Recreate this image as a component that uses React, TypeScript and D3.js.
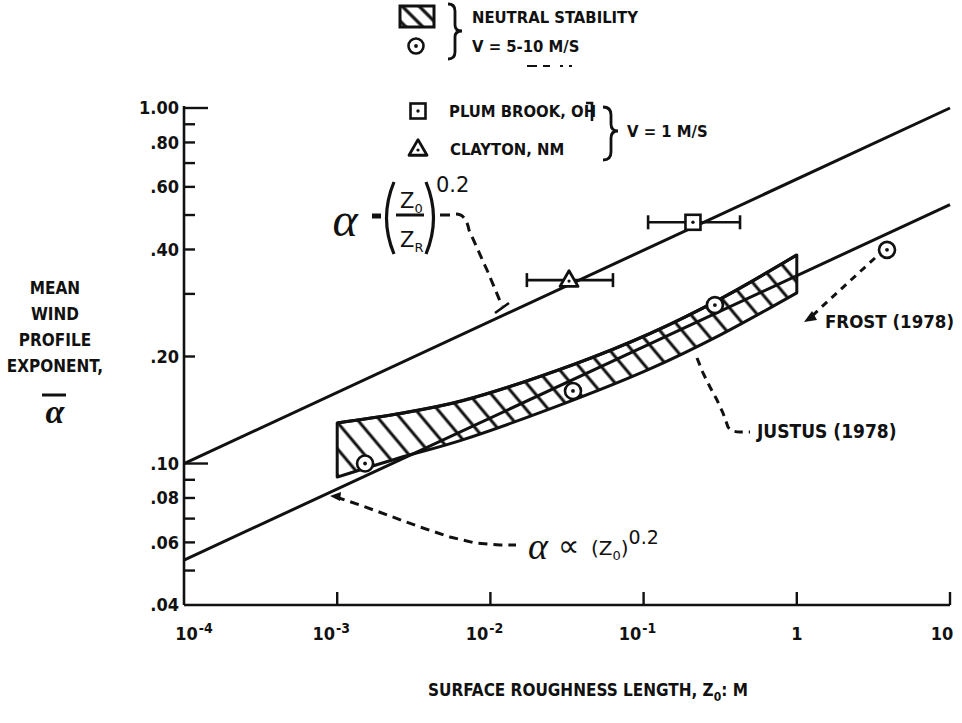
import React from "react";
import * as d3 from "d3";

// ---------- data ----------
const xTickValues = [1e-4, 1e-3, 1e-2, 1e-1, 1, 10];
const xTickBase = ["10", "10", "10", "10", "1", "10"];
const xTickExp = ["-4", "-3", "-2", "-1", "", ""];

const yLabelValues = [0.04, 0.06, 0.08, 0.1, 0.2, 0.4, 0.6, 0.8, 1.0];
const yLabelTexts = [".04", ".06", ".08", ".10", ".20", ".40", ".60", ".80", "1.00"];
const yMinorValues = [0.05, 0.07, 0.09, 0.3, 0.5, 0.7, 0.9];
const yLongTicks = [0.1, 1.0];

// alpha = (z0/zR)^0.2 line
const upperLineZ = [1e-4, 10];
const upperLineA = [0.1, 1.0];
// alpha proportional to z0^0.2 line
const lowerLineZ = [1e-4, 10];
const lowerLineA = [0.0535, 0.535];

// neutral stability band
const bandZ = [0.001, 0.0025, 0.0065, 0.035, 0.11, 0.315, 1.0];
const bandTop = [0.13, 0.138, 0.15, 0.19, 0.232, 0.29, 0.386];
const bandBottom = [0.0916, 0.1035, 0.1164, 0.151, 0.1845, 0.2297, 0.302];

// neutral stability points (V = 5-10 m/s)
const neutralZ = [0.00152, 0.0346, 0.292, 3.88];
const neutralA = [0.1, 0.16, 0.279, 0.399];

// low-wind sites (V = 1 m/s)
const siteNames = ["PLUM BROOK, OH", "CLAYTON, NM"];
const siteZ = [0.21, 0.0326];
const siteA = [0.477, 0.328];
const siteZmin = [0.107, 0.0173];
const siteZmax = [0.426, 0.0631];

// ---------- layout ----------
const W = 962;
const H = 723;
const FONT = "'DejaVu Sans Condensed', 'DejaVu Sans', sans-serif";
const INK = "#111";

const x = d3.scaleLog().domain([1e-4, 10]).range([184, 950]);
const y = d3.scaleLog().domain([0.04, 1.0]).range([605, 108]);

function CircleDot({ cx, cy, r = 8 }: { cx: number; cy: number; r?: number }) {
  return (
    <g>
      <circle cx={cx} cy={cy} r={r} fill="#fff" stroke={INK} strokeWidth={2.6} />
      <circle cx={cx} cy={cy} r={1.9} fill={INK} />
    </g>
  );
}

function SquareDot({ cx, cy, s = 15 }: { cx: number; cy: number; s?: number }) {
  return (
    <g>
      <rect x={cx - s / 2} y={cy - s / 2} width={s} height={s} fill="#fff" stroke={INK} strokeWidth={2.6} />
      <circle cx={cx} cy={cy} r={1.7} fill={INK} />
    </g>
  );
}

function TriangleDot({ cx, cy, s = 18 }: { cx: number; cy: number; s?: number }) {
  const h = s * 0.87;
  const pts = `${cx},${cy - h * 0.6} ${cx - s / 2},${cy + h * 0.4} ${cx + s / 2},${cy + h * 0.4}`;
  return (
    <g>
      <polygon points={pts} fill="#fff" stroke={INK} strokeWidth={2.8} strokeLinejoin="round" />
      <circle cx={cx} cy={cy + 1} r={1.6} fill={INK} />
    </g>
  );
}

export default function App() {
  const line = d3
    .line<[number, number]>()
    .x((d) => x(d[0]))
    .y((d) => y(d[1]));

  const upperPts: [number, number][] = upperLineZ.map((z, i) => [z, upperLineA[i]]);
  const lowerPts: [number, number][] = lowerLineZ.map((z, i) => [z, lowerLineA[i]]);

  const bandArea = d3
    .area<number>()
    .x((_, i) => x(bandZ[i]))
    .y0((_, i) => y(bandBottom[i]))
    .y1((_, i) => y(bandTop[i]))
    .curve(d3.curveCatmullRom.alpha(0.5));
  const bandPath = bandArea(bandZ) || "";

  const topLine = d3
    .line<number>()
    .x((_, i) => x(bandZ[i]))
    .y((d) => y(d))
    .curve(d3.curveCatmullRom.alpha(0.5));

  const dash = "9 6";

  return (
    <svg
      width={W}
      height={H}
      viewBox={`0 0 ${W} ${H}`}
      style={{ position: "absolute", left: 0, top: 0, background: "#fff" }}
      fontFamily={FONT}
      fontWeight="bold"
    >
      <defs>
        <pattern id="hatch" width="17" height="17" patternUnits="userSpaceOnUse" patternTransform="rotate(-40)">
          <line x1="4" y1="0" x2="4" y2="17" stroke={INK} strokeWidth={3} />
        </pattern>
        <pattern id="hatchLeg" width="12" height="12" patternUnits="userSpaceOnUse" patternTransform="rotate(-45)">
          <line x1="4" y1="0" x2="4" y2="12" stroke={INK} strokeWidth={3.2} />
        </pattern>
      </defs>
      <rect x={0} y={0} width={W} height={H} fill="#fff" />

      {/* axes */}
      <line x1={x(1e-4)} y1={y(0.04)} x2={x(1e-4)} y2={y(1.0) - 2} stroke={INK} strokeWidth={2.6} />
      <line x1={x(1e-4)} y1={y(0.04)} x2={x(10)} y2={y(0.04)} stroke={INK} strokeWidth={2.6} />

      {/* y ticks */}
      {yLabelValues.map((v, i) => {
        const long = yLongTicks.includes(v);
        return (
          <g key={"yl" + i}>
            {v !== 0.04 && (
              <line x1={x(1e-4)} x2={x(1e-4) + (long ? 24 : 11)} y1={y(v)} y2={y(v)} stroke={INK} strokeWidth={2.4} />
            )}
            <text x={x(1e-4) - 5} y={y(v)} dy="0.36em" textAnchor="end" fontSize={18} fill={INK}>
              {yLabelTexts[i]}
            </text>
          </g>
        );
      })}
      {yMinorValues.map((v, i) => (
        <line key={"ym" + i} x1={x(1e-4)} x2={x(1e-4) + 11} y1={y(v)} y2={y(v)} stroke={INK} strokeWidth={2.4} />
      ))}

      {/* x ticks */}
      {xTickValues.map((v, i) => (
        <g key={"xt" + i}>
          {i > 0 && <line x1={x(v)} x2={x(v)} y1={y(0.04)} y2={y(0.04) - 13} stroke={INK} strokeWidth={2.4} />}
          <text
            x={x(v) + (i === 0 ? 10 : i === 5 ? -8 : xTickExp[i] ? -6 : 0)}
            y={634}
            dy="0.36em"
            textAnchor="middle"
            fontSize={18}
            fill={INK}
          >
            {xTickBase[i]}
            {xTickExp[i] && (
              <tspan dy="-0.55em" dx="1" fontSize={14}>
                {xTickExp[i]}
              </tspan>
            )}
          </text>
        </g>
      ))}

      {/* axis titles */}
      <text x={588} y={696} textAnchor="middle" fontSize={17} fill={INK}>
        SURFACE ROUGHNESS LENGTH, Z
        <tspan dy="5" fontSize={12}>0</tspan>
        <tspan dy="-5">: M</tspan>
      </text>
      <g fontSize={17} fill={INK} textAnchor="middle">
        <text x={55} y={294}>MEAN</text>
        <text x={55} y={320}>WIND</text>
        <text x={55} y={346}>PROFILE</text>
        <text x={55} y={372}>EXPONENT,</text>
      </g>
      <line x1={42} x2={66} y1={395} y2={395} stroke={INK} strokeWidth={3} />
      <text x={55} y={423} textAnchor="middle" fontSize={34} fontStyle="italic" fontFamily="'Liberation Serif', serif" fill={INK}>
        α
      </text>

      {/* hatched band */}
      <path d={bandPath} fill="url(#hatch)" stroke={INK} strokeWidth={3} strokeLinejoin="round" />
      <path d={topLine(bandTop) || ""} fill="none" stroke={INK} strokeWidth={3.2} />

      {/* lines */}
      <path d={line(upperPts) || ""} fill="none" stroke={INK} strokeWidth={3} />
      <path d={line(lowerPts) || ""} fill="none" stroke={INK} strokeWidth={3} />

      {/* neutral points */}
      {neutralZ.map((z, i) => (
        <CircleDot key={"n" + i} cx={x(z)} cy={y(neutralA[i])} />
      ))}

      {/* low wind sites with error bars */}
      {siteZ.map((z, i) => {
        const cy = y(siteA[i]);
        const x0 = x(siteZmin[i]);
        const x1 = x(siteZmax[i]);
        return (
          <g key={"s" + i}>
            <line x1={x0} x2={x1} y1={cy} y2={cy} stroke={INK} strokeWidth={2.6} />
            <line x1={x0} x2={x0} y1={cy - 7} y2={cy + 7} stroke={INK} strokeWidth={2.6} />
            <line x1={x1} x2={x1} y1={cy - 7} y2={cy + 7} stroke={INK} strokeWidth={2.6} />
            {i === 0 ? <SquareDot cx={x(z)} cy={cy} /> : <TriangleDot cx={x(z)} cy={cy} />}
          </g>
        );
      })}

      {/* legend */}
      <rect x={400} y={6} width={34} height={21} fill="url(#hatchLeg)" stroke={INK} strokeWidth={3} />
      <CircleDot cx={416} cy={46} r={7.5} />
      <path d="M448,4 Q455,4 455,11 L455,25 Q455,31 462,31 Q455,31 455,37 L455,52 Q455,59 448,59" fill="none" stroke={INK} strokeWidth={2.8} />
      <text x={472} y={23} fontSize={16.5} fill={INK}>NEUTRAL STABILITY</text>
      <text x={472} y={52} fontSize={16.5} fill={INK}>V = 5-10 M/S</text>
      <g stroke={INK} strokeWidth={2}>
        <line x1={527} x2={537} y1={66} y2={66} />
        <line x1={543} x2={550} y1={66} y2={66} />
        <line x1={560} x2={563} y1={66} y2={66} />
        <line x1={569} x2={572} y1={66} y2={66} />
      </g>
      <SquareDot cx={418} cy={111} />
      <text x={449} y={117} fontSize={16.5} fill={INK}>{siteNames[0]}</text>
      <path d="M586,103 L592,103 L592,121" fill="none" stroke={INK} strokeWidth={2.6} />
      <TriangleDot cx={418} cy={149} />
      <text x={450} y={155} fontSize={16.5} fill={INK}>{siteNames[1]}</text>
      <path d="M603,107 Q611,107 611,115 L611,124 Q611,131 618,131 Q611,131 611,138 L611,152 Q611,160 603,160" fill="none" stroke={INK} strokeWidth={2.8} />
      <text x={627} y={137} fontSize={16.5} fill={INK}>V = 1 M/S</text>

      {/* annotation: alpha = (Z0/ZR)^0.2 */}
      <text x={345} y={236} textAnchor="middle" fontSize={48} fontStyle="italic" fontFamily="'Liberation Serif', serif" fontWeight="normal" fill={INK}>
        α
      </text>
      <line x1={372} x2={381} y1={216} y2={216} stroke={INK} strokeWidth={5} />
      <path d="M394,182 Q379,218 394,254" fill="none" stroke={INK} strokeWidth={3.2} />
      <path d="M426,182 Q441,218 426,254" fill="none" stroke={INK} strokeWidth={3.2} />
      <line x1={396} x2={424} y1={215} y2={215} stroke={INK} strokeWidth={3} />
      <text x={400} y={208} fontSize={21} fontWeight="normal" fontFamily="'DejaVu Sans', sans-serif" fill={INK}>
        Z<tspan dy="5" fontSize={13}>0</tspan>
      </text>
      <text x={400} y={247} fontSize={21} fontWeight="normal" fontFamily="'DejaVu Sans', sans-serif" fill={INK}>
        Z<tspan dy="5" fontSize={13}>R</tspan>
      </text>
      <text x={436} y={192} fontSize={21} fontWeight="normal" fontFamily="'DejaVu Sans', sans-serif" fill={INK}>
        0.2
      </text>
      <line x1={440} x2={450} y1={215} y2={215} stroke={INK} strokeWidth={3} />
      <path
        d="M456,214 Q466,214 469,230 L478,250 L487,270 L495,289 L502,306"
        fill="none"
        stroke={INK}
        strokeWidth={3}
        strokeDasharray={dash}
      />
      <line x1={495} x2={509} y1={313} y2={303} stroke={INK} strokeWidth={2.6} />

      {/* annotation: alpha proportional to (Z0)^0.2 */}
      <path
        d="M336,497 L360,505 L390,516 L420,527 L450,537 L475,543 L500,545 L516,545"
        fill="none"
        stroke={INK}
        strokeWidth={3}
        strokeDasharray={dash}
      />
      <polygon points="330,496 341,492 340,501" fill={INK} />
      <text x={538} y={559} textAnchor="middle" fontSize={38} fontStyle="italic" fontFamily="'Liberation Serif', serif" fontWeight="normal" fill={INK}>
        α
      </text>
      <text x={558} y={556} fontSize={30} fontWeight="normal" fontFamily="'DejaVu Sans', sans-serif" fill={INK}>
        ∝
      </text>
      <text x={591} y={555} fontSize={20} fontWeight="normal" fontFamily="'DejaVu Sans', sans-serif" fill={INK}>
        (Z<tspan dy="5" fontSize={13}>0</tspan>
        <tspan dy="-5">)</tspan>
        <tspan dy="-11" fontSize={19}>0.2</tspan>
      </text>

      {/* annotation: FROST */}
      <path d="M875,258 L840,290 L812,316" fill="none" stroke={INK} strokeWidth={3} strokeDasharray="7 6" />
      <polygon points="804,322 812,311 817,320" fill={INK} />
      <text x={825} y={328} fontSize={18.5} fill={INK}>FROST (1978)</text>

      {/* annotation: JUSTUS */}
      <path
        d="M697,358 L703,373 L710,387 L717,400 L723,413 L728,427 Q731,432 740,432 L750,432"
        fill="none"
        stroke={INK}
        strokeWidth={3}
        strokeDasharray="8 6"
      />
      <text x={757} y={438} fontSize={19} fill={INK}>JUSTUS (1978)</text>
    </svg>
  );
}
